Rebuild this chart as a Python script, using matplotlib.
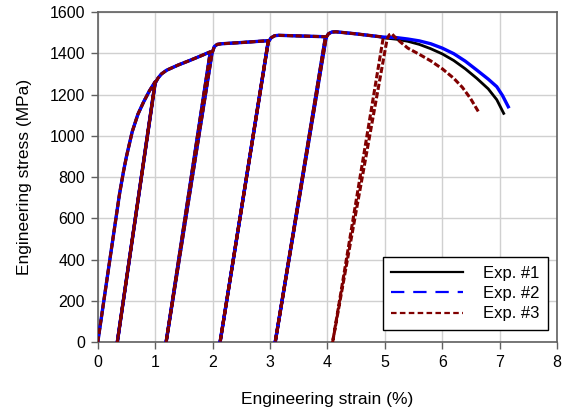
#!/usr/bin/env python3

import matplotlib
matplotlib.use("Agg")
import matplotlib.pyplot as plt
from matplotlib.lines import Line2D

plt.rcParams['font.family'] = ['Liberation Sans', 'DejaVu Sans']

# cyclic part (shared by all three tests, they overlap)
cycle_strain = [0.0, 0.2, 0.38, 0.45, 0.5, 0.6, 0.7, 0.8, 0.9, 1.0,
                0.34,
                1.0, 1.05, 1.11, 1.2, 1.4, 1.6, 1.8, 1.96,
                1.19,
                1.99, 2.03, 2.08, 2.15, 2.5, 2.97,
                2.13,
                2.97, 3.02, 3.08, 3.15, 3.5, 3.98,
                3.09,
                3.96, 4.02, 4.08, 4.15, 4.5, 4.92]
cycle_stress = [0, 380, 720, 830, 900, 1020, 1105, 1165, 1218, 1262,
                0,
                1255, 1280, 1300, 1318, 1343, 1365, 1388, 1407,
                0,
                1400, 1432, 1443, 1446, 1452, 1461,
                0,
                1455, 1475, 1485, 1487, 1484, 1480,
                0,
                1470, 1495, 1503, 1504, 1494, 1480]

# tails after the last common cycle
exp1_strain = [5.0, 5.2, 5.4, 5.6, 5.8, 6.0, 6.2, 6.4, 6.6, 6.8, 6.95, 7.07]
exp1_stress = [1474, 1468, 1458, 1443, 1422, 1397, 1365, 1325, 1279, 1228, 1175, 1109]

exp2_strain = [5.0, 5.2, 5.4, 5.6, 5.8, 6.0, 6.2, 6.4, 6.6, 6.8, 6.95, 7.05, 7.15]
exp2_stress = [1478, 1476, 1469, 1460, 1446, 1425, 1398, 1362, 1319, 1275, 1238, 1195, 1141]

exp3_strain = [4.97, 4.09, 5.04, 5.08, 5.12, 5.17, 5.27, 5.4, 5.6, 5.8, 6.0,
               6.2, 6.35, 6.49, 6.63]
exp3_stress = [1472, 0, 1470, 1490, 1495, 1480, 1455, 1425, 1395, 1363, 1325,
               1279, 1235, 1182, 1117]

labels = ['Exp. #1', 'Exp. #2', 'Exp. #3']


def main():
    fig = plt.figure(figsize=(5.65, 4.13), dpi=100)
    ax = fig.add_axes([0.173, 0.171, 0.813, 0.800])

    ax.plot(cycle_strain + exp1_strain, cycle_stress + exp1_stress,
            color='black', lw=2.0, zorder=3)
    ax.plot(cycle_strain + exp2_strain, cycle_stress + exp2_stress,
            color='#0000ff', lw=2.4, zorder=4)
    ax.plot(cycle_strain + exp3_strain, cycle_stress + exp3_stress,
            color='#800000', lw=2.2, dashes=(2.0, 0.8), zorder=5)

    ax.set_xlim(0, 8)
    ax.set_ylim(0, 1600)
    ax.set_xticks(range(0, 9))
    ax.set_yticks(range(0, 1601, 200))
    ax.grid(True, color='#d0d0d0', lw=1.0)
    ax.set_axisbelow(True)

    for sp in ax.spines.values():
        sp.set_color('#606060')
        sp.set_linewidth(1.2)
    ax.tick_params(direction='out', length=5, width=1.0, color='#606060',
                   labelsize=11.5, pad=4)

    ax.set_xlabel('Engineering strain (%)', fontsize=12.5, labelpad=16)
    ax.set_ylabel('Engineering stress (MPa)', fontsize=12.5, labelpad=13)

    handles = [
        Line2D([], [], color='black', lw=1.6),
        Line2D([], [], color='#0000ff', lw=1.6, dashes=(6, 4)),
        Line2D([], [], color='#800000', lw=1.6, dashes=(2.5, 1.5)),
    ]
    leg = ax.legend(handles, labels, loc='lower right',
                    bbox_to_anchor=(0.98, 0.038), borderaxespad=0,
                    fontsize=12, handlelength=4.3, handletextpad=1.2,
                    labelspacing=0.32, fancybox=False, framealpha=1,
                    borderpad=0.5)
    leg.get_frame().set_edgecolor('black')
    leg.get_frame().set_linewidth(1.0)

    fig.savefig('out.png', dpi=100)


if __name__ == "__main__":
    main()
